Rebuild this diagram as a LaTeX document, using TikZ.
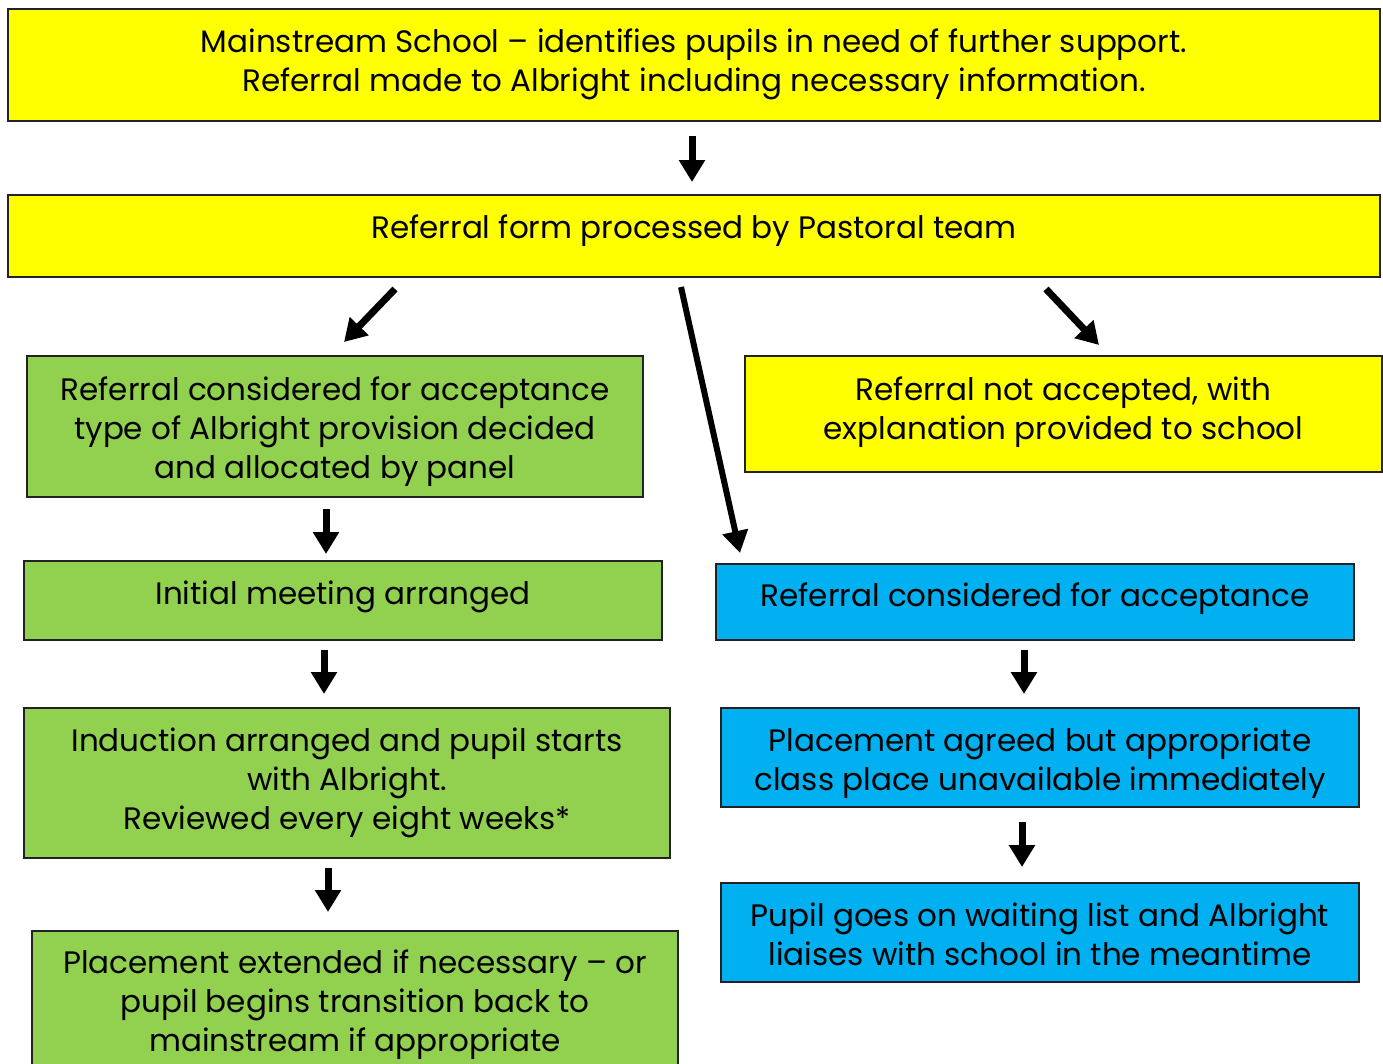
\documentclass[tikz,border=0pt]{standalone}
\usepackage{fontspec}
\setmainfont{Poppins}
\usetikzlibrary{arrows.meta}
\definecolor{ylw}{HTML}{FFFF00}
\definecolor{grn}{HTML}{92D050}
\definecolor{blu}{HTML}{00B0F0}
\definecolor{edge}{HTML}{222222}
\tikzset{
  box/.style={draw=edge, line width=1.3pt, inner sep=0pt},
  txt/.style={inner sep=0pt, align=center, font=\fontsize{31}{39}\selectfont},
  flow/.style={line width=7pt, -{Triangle[width=25pt,length=22pt]}},
}
\begin{document}
\begin{tikzpicture}[x=1pt,y=-1pt]
\useasboundingbox (0,0) rectangle (1383,1063);
\fill[white] (0,0) rectangle (1383,1063);
\node[box, fill=ylw, minimum width=1372, minimum height=112] (n1) at (694,65) {};
\node[box, fill=ylw, minimum width=1372, minimum height=82] (n2) at (694,236) {};
\node[box, fill=grn, minimum width=616, minimum height=141] (n3) at (335,426.5) {};
\node[box, fill=ylw, minimum width=637, minimum height=116] (n4) at (1063.5,414) {};
\node[box, fill=grn, minimum width=638, minimum height=79] (n5) at (343,600.5) {};
\node[box, fill=blu, minimum width=638, minimum height=76] (n6) at (1035,602) {};
\node[box, fill=grn, minimum width=646, minimum height=150] (n7) at (347,783) {};
\node[box, fill=blu, minimum width=638, minimum height=99] (n8) at (1040,757.5) {};
\node[box, fill=blu, minimum width=638, minimum height=99] (n9) at (1040,932.5) {};
\node[box, fill=grn, minimum width=646, minimum height=142] (n10) at (355,1002) {};

\node[txt] (t1) at ([yshift=1pt]n1.center)
  {Mainstream School – identifies pupils in need of further support.\\Referral made to Albright including necessary information.};
\node[txt] (t2) at ([yshift=5pt]n2.center)
  {Referral form processed by Pastoral team};
\node[txt] (t3) at ([yshift=-5pt]n3.center)
  {Referral considered for acceptance\\type of Albright provision decided\\and allocated by panel};
\node[txt] (t4) at ([yshift=2pt]n4.center)
  {Referral not accepted, with\\explanation provided to school};
\node[txt] (t5) at ([yshift=4pt]n5.center)
  {Initial meeting arranged};
\node[txt] (t6) at ([yshift=3pt]n6.center)
  {Referral considered for acceptance};
\node[txt] (t7) at (n7.center)
  {Induction arranged and pupil starts\\with Albright.\\Reviewed every eight weeks*};
\node[txt] (t8) at ([yshift=-6pt]n8.center)
  {Placement agreed but appropriate\\class place unavailable immediately};
\node[txt] (t9) at ([yshift=-2pt]n9.center)
  {Pupil goes on waiting list and Albright\\liaises with school in the meantime};
\node[txt] (t10) at ([yshift=-3pt]n10.center)
  {Placement extended if necessary – or\\pupil begins transition back to\\mainstream if appropriate};

\coordinate (a1s) at (692,136); \coordinate (a1e) at (692,182);
\coordinate (a2s) at (395,289); \coordinate (a2e) at (344,342);
\coordinate (a3s) at (681,287); \coordinate (a3e) at (740,553);
\coordinate (a4s) at (1046,289); \coordinate (a4e) at (1099,345);
\coordinate (a5s) at (326,509); \coordinate (a5e) at (326,554);
\coordinate (a6s) at (324,650); \coordinate (a6e) at (324,694);
\coordinate (a7s) at (1024,650); \coordinate (a7e) at (1024,694);
\coordinate (a8s) at (328,868); \coordinate (a8e) at (328,912);
\coordinate (a9s) at (1022,822); \coordinate (a9e) at (1022,867);
\draw[flow] (a1s) -- (a1e);
\draw[flow] (a2s) -- (a2e);
\draw[flow, line width=6pt] (a3s) -- (a3e);
\draw[flow] (a4s) -- (a4e);
\draw[flow] (a5s) -- (a5e);
\draw[flow] (a6s) -- (a6e);
\draw[flow] (a7s) -- (a7e);
\draw[flow] (a8s) -- (a8e);
\draw[flow] (a9s) -- (a9e);
\end{tikzpicture}
\end{document}
